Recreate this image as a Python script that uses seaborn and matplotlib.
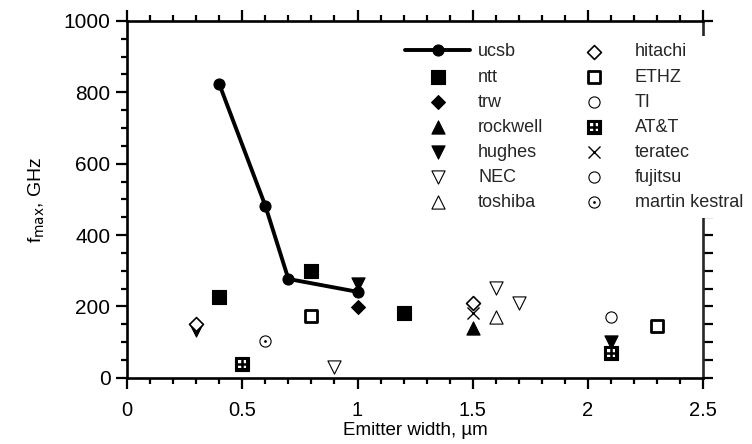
import numpy as np
import matplotlib
matplotlib.use("Agg")
import matplotlib.pyplot as plt
import seaborn as sns

# ucsb series (drawn as a line)
ucsb_x = [0.4, 0.6, 0.7, 1.0]
ucsb_y = [823, 482, 277, 241]

# other labs, scatter only
ntt_x, ntt_y = [0.4, 0.8, 1.2], [227, 300, 182]
trw_x, trw_y = [1.0], [199]
rockwell_x, rockwell_y = [1.5], [140]
hughes_x, hughes_y = [0.3, 1.0, 2.1], [133, 263, 101]
nec_x, nec_y = [0.9, 1.6, 1.7], [31, 252, 210]
toshiba_x, toshiba_y = [1.6], [171]
hitachi_x, hitachi_y = [0.3, 1.5], [150, 211]
ethz_x, ethz_y = [0.8, 2.3], [174, 146]
ti_x, ti_y = [2.1], [171]
att_x, att_y = [0.5, 2.1], [39, 70]
teratec_x, teratec_y = [1.5], [182]
fujitsu_x, fujitsu_y = [], []
martin_x, martin_y = [0.6], [104]

sns.set_theme(style="white")
plt.rcParams["font.family"] = ["Liberation Sans", "DejaVu Sans"]
plt.rcParams["font.size"] = 14

fig = plt.figure(figsize=(7.52, 4.44), dpi=100)
ax = fig.add_axes([0.169, 0.149, 0.766, 0.804])

sns.lineplot(x=ucsb_x, y=ucsb_y, ax=ax, color="black", lw=2.8, marker="o",
             markersize=8, markeredgecolor="black", label="ucsb", legend=False)
h_ucsb = ax.lines[-1]

def pts(x, y, label, marker, s, fc="black", ec="black", lw=0.8):
    # empty series just get a legend handle
    if len(x) == 0:
        return ax.scatter([], [], marker=marker, s=s, c=fc, edgecolors=ec,
                          linewidths=lw, label=label)
    sns.scatterplot(x=x, y=y, ax=ax, marker=marker, s=s, color=fc,
                    edgecolor=ec, linewidth=lw, label=label, legend=False, zorder=3)
    return ax.collections[-1]

h_ntt = pts(ntt_x, ntt_y, "ntt", "s", 100)
h_trw = pts(trw_x, trw_y, "trw", "D", 50)
h_rock = pts(rockwell_x, rockwell_y, "rockwell", "^", 90)
h_hug = pts(hughes_x, hughes_y, "hughes", "v", 90)
h_nec = pts(nec_x, nec_y, "NEC", "v", 90, fc="white")
h_tosh = pts(toshiba_x, toshiba_y, "toshiba", "^", 90, fc="white")
h_hit = pts(hitachi_x, hitachi_y, "hitachi", "D", 50, fc="white", lw=1.2)
h_ethz = pts(ethz_x, ethz_y, "ETHZ", "s", 80, fc="white", lw=2.0)
h_ti = pts(ti_x, ti_y, "TI", "o", 65, fc="white")
# AT&T: black square with four white windows
h_att = pts(att_x, att_y, "AT&T", "s", 90)
h_att2 = pts(att_x, att_y, "_att", "s", 40, fc="white", lw=0)
h_att3 = pts(att_x, att_y, "_att", "+", 45, lw=1.8)
h_ter = pts(teratec_x, teratec_y, "teratec", "x", 75, lw=1.0)
h_fuj = pts(fujitsu_x, fujitsu_y, "fujitsu", "o", 65, fc="white")
h_mar = pts(martin_x, martin_y, "martin kestral", "o", 65, fc="white")
h_mar2 = pts(martin_x, martin_y, "_mk", "o", 4, lw=0)

handles = [h_ucsb, h_ntt, h_trw, h_rock, h_hug, h_nec, h_tosh,
           h_hit, h_ethz, h_ti, (h_att, h_att2, h_att3), h_ter, h_fuj, (h_mar, h_mar2)]
labels = ["ucsb", "ntt", "trw", "rockwell", "hughes", "NEC", "toshiba",
          "hitachi", "ETHZ", "TI", "AT&T", "teratec", "fujitsu", "martin kestral"]
# opaque white box, it hides part of the right spine like the original
leg = ax.legend(handles, labels, ncol=2, frameon=True, loc="upper left",
                bbox_to_anchor=(0.47, 0.957), handlelength=3.6, handletextpad=0.45,
                labelspacing=0.45, columnspacing=1.0, fontsize=13, borderaxespad=0,
                fancybox=False, facecolor="white", edgecolor="none", framealpha=1)
leg.set_zorder(10)

ax.set_xlim(0, 2.5)
ax.set_ylim(0, 1000)
ax.set_xticks(np.arange(0, 2.51, 0.5))
ax.set_xticklabels(["0", "0.5", "1", "1.5", "2", "2.5"])
ax.set_xticks(np.arange(0, 2.51, 0.1), minor=True)
ax.set_yticks(np.arange(0, 1001, 200))
ax.set_yticks(np.arange(0, 1001, 50), minor=True)

for sp in ax.spines.values():
    sp.set_linewidth(1.9)
    sp.set_color("black")
    sp.set_visible(True)
ax.spines["right"].set_visible(False)

ax.tick_params(which="both", direction="out", color="black", width=1.6,
               top=True, bottom=True, left=True, right=False,
               labelcolor="black")
ax.tick_params(which="major", length=8)
ax.tick_params(axis="x", which="major", pad=9, labelsize=14.5)
ax.tick_params(axis="y", which="major", pad=4, labelsize=15)
ax.tick_params(which="minor", length=4.5)

sec = ax.secondary_yaxis("right")
sec.set_yticks(np.arange(0, 1001, 50))
sec.tick_params(direction="out", length=7, width=1.6, color="black", labelright=False)
sec.spines["right"].set_linewidth(1.9)
sec.set_zorder(1)

ax.set_xlabel("Emitter width, \u00b5m", fontsize=13.5, labelpad=1, color="black")
ax.set_ylabel("f$_{\\rm max}$, GHz", fontsize=14, labelpad=12, color="black")

fig.savefig("out.png", dpi=100)
